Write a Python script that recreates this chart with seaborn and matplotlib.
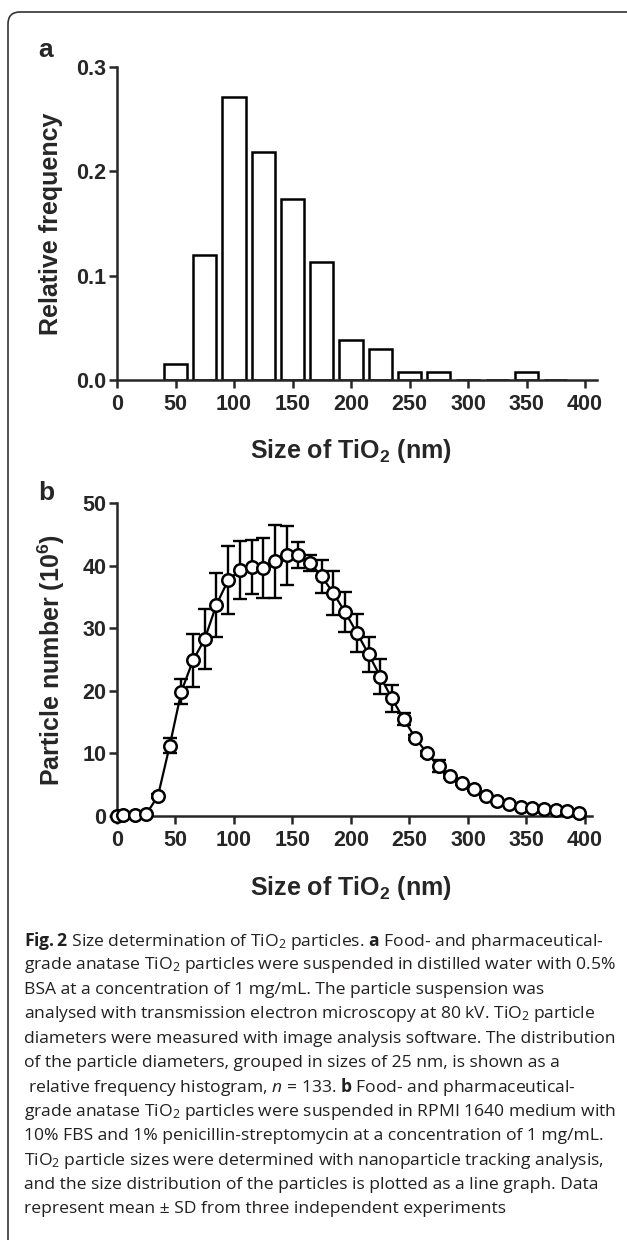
import numpy as np
import pandas as pd
import matplotlib
matplotlib.use("Agg")
import matplotlib.pyplot as plt
import seaborn as sns
from matplotlib.patches import FancyBboxPatch
from matplotlib.transforms import IdentityTransform

# panel a: TEM diameters, 25 nm bins, n = 133
hist_size = [50, 75, 100, 125, 150, 175, 200, 225, 250, 275, 300, 325, 350, 375]
hist_freq = [0.015, 0.120, 0.271, 0.218, 0.173, 0.113, 0.038, 0.030,
             0.0075, 0.0075, 0.0, 0.0, 0.0075, 0.0]

# panel b: nanoparticle tracking, mean and SD of three experiments
nta_size = [0, 5, 15, 25, 35, 45, 55, 65, 75, 85, 95, 105, 115, 125, 135, 145,
            155, 165, 175, 185, 195, 205, 215, 225, 235, 245, 255, 265, 275,
            285, 295, 305, 315, 325, 335, 345, 355, 365, 375, 385, 395]
nta_mean = [0.0, 0.1, 0.1, 0.3, 3.2, 11.2, 19.9, 24.9, 28.3, 33.8, 37.7, 39.3,
            39.8, 39.7, 40.7, 41.7, 41.7, 40.5, 38.3, 35.6, 32.6, 29.3, 25.9,
            22.3, 18.8, 15.5, 12.5, 10.0, 8.0, 6.4, 5.2, 4.3, 3.2, 2.4, 1.9,
            1.5, 1.2, 1.05, 0.95, 0.8, 0.5]
nta_sd = [0.0, 0.0, 0.0, 0.1, 0.3, 1.2, 2.0, 4.2, 4.8, 5.1, 5.4, 4.6, 4.3, 4.8,
          5.8, 4.7, 2.1, 1.3, 2.6, 3.5, 3.2, 3.0, 2.8, 2.8, 2.1, 1.0, 0.4, 0.4,
          0.9, 0.3, 0.3, 0.3, 0.2, 0.2, 0.2, 0.2, 0.2, 0.1, 0.1, 0.1, 0.1]

x_ticks = [0, 50, 100, 150, 200, 250, 300, 350, 400]
a_yticks = [0.0, 0.1, 0.2, 0.3]
b_yticks = [0, 10, 20, 30, 40, 50]

caption_lines = [
    r"$\mathbf{Fig.2}$ Size determination of TiO$_2$ particles. $\mathbf{a}$ Food- and pharmaceutical-",
    r"grade anatase TiO$_2$ particles were suspended in distilled water with 0.5%",
    "BSA at a concentration of 1 mg/mL. The particle suspension was",
    r"analysed with transmission electron microscopy at 80 kV. TiO$_2$ particle",
    "diameters were measured with image analysis software. The distribution",
    "of the particle diameters, grouped in sizes of 25 nm, is shown as a",
    r" relative frequency histogram, $n$ = 133. $\mathbf{b}$ Food- and pharmaceutical-",
    r"grade anatase TiO$_2$ particles were suspended in RPMI 1640 medium with",
    "10% FBS and 1% penicillin-streptomycin at a concentration of 1 mg/mL.",
    r"TiO$_2$ particle sizes were determined with nanoparticle tracking analysis,",
    "and the size distribution of the particles is plotted as a line graph. Data",
    "represent mean ± SD from three independent experiments",
]

sns.set_style("ticks")
plt.rcParams["font.family"] = ["Liberation Sans", "DejaVu Sans"]
plt.rcParams["mathtext.fontset"] = "custom"
plt.rcParams["mathtext.rm"] = "Open Sans"
plt.rcParams["mathtext.it"] = "Open Sans:italic"
plt.rcParams["mathtext.bf"] = "Open Sans:bold"
plt.rcParams["mathtext.sf"] = "Liberation Sans:bold"

W, H = 627, 1240
fig = plt.figure(figsize=(W / 100, H / 100), dpi=100)


def px_axes(left, top, right, bottom):
    return fig.add_axes([left / W, 1 - bottom / H, (right - left) / W, (bottom - top) / H])


ax_a = px_axes(117, 66.7, 596.7, 380)
ax_b = px_axes(117, 503.3, 592, 816)

# histogram
sns.barplot(x=hist_size, y=hist_freq, native_scale=True, width=0.8, color="white",
            edgecolor="black", linewidth=1.8, errorbar=None, ax=ax_a)
ax_a.set_xlim(0, 410)
ax_a.set_ylim(0, 0.3)
ax_a.set_yticks(a_yticks)
ax_a.set_yticklabels([f"{v:.1f}" for v in a_yticks])

# line graph with SD
ax_b.errorbar(nta_size, nta_mean, yerr=nta_sd, fmt="none", ecolor="black",
              elinewidth=1.7, capsize=5, capthick=1.7, zorder=2, clip_on=False)
sns.lineplot(x=nta_size, y=nta_mean, ax=ax_b, color="black", linewidth=1.6,
             marker="o", markersize=9, markerfacecolor="white",
             markeredgecolor="black", markeredgewidth=1.8, zorder=3, clip_on=False)
ax_b.set_xlim(0, 406)
ax_b.set_ylim(0, 50)
ax_b.set_yticks(b_yticks)

for ax in (ax_a, ax_b):
    sns.despine(ax=ax)
    ax.set_xticks(x_ticks)
    for s in ("left", "bottom"):
        ax.spines[s].set_linewidth(1.8)
        ax.spines[s].set_zorder(1)
    ax.tick_params(axis="both", direction="out", length=6, width=1.8, labelsize=15.5)
    ax.tick_params(axis="x", pad=4)
    ax.tick_params(axis="y", pad=1.5)
    for lab in ax.get_xticklabels() + ax.get_yticklabels():
        lab.set_fontweight("bold")

ax_a.set_xlabel(r"Size of TiO$_\mathsf{2}$ (nm)", fontsize=18, fontweight="bold", va="center")
ax_a.xaxis.set_label_coords((351 - 117) / (596.7 - 117), -(451 - 380) / (380 - 66.7))
ax_a.set_ylabel("Relative frequency", fontsize=18, fontweight="bold", va="center")
ax_a.yaxis.set_label_coords(-(117 - 51) / (596.7 - 117), 0.5)

ax_b.set_xlabel(r"Size of TiO$_\mathsf{2}$ (nm)", fontsize=18, fontweight="bold", va="center")
ax_b.xaxis.set_label_coords((351 - 117) / (592 - 117), -(888 - 816) / (816 - 503.3))
ax_b.set_ylabel(r"Particle number (10$^\mathsf{6}$)", fontsize=18, fontweight="bold", va="center")
ax_b.yaxis.set_label_coords(-(117 - 51) / (592 - 117), 0.5)

fig.text(38 / W, 1 - 57 / H, "a", fontsize=19, fontweight="bold", ha="left", va="baseline")
fig.text(38 / W, 1 - 500 / H, "b", fontsize=19, fontweight="bold", ha="left", va="baseline")

for i, line in enumerate(caption_lines):
    fig.text(24 / W, 1 - (941 + i * 24.4) / H, line, family="Open Sans", fontsize=12.6,
             fontweight="normal", color="#231f20", ha="left", va="center")

# rounded frame around the figure
frame = FancyBboxPatch((8, -30), 700, H - 12 + 30, boxstyle="round,pad=0,rounding_size=12",
                       transform=IdentityTransform(), fill=False, lw=1.2, ec="#333333")
fig.patches.append(frame)

fig.savefig("out.png", dpi=100)
